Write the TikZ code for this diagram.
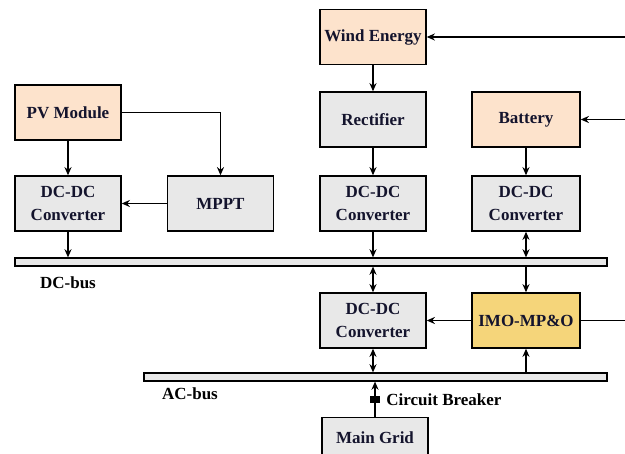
\documentclass[tikz,border=0pt]{standalone}
\usepackage{fontspec}
\setmainfont{Liberation Serif}
\usepackage{tikz}
\usetikzlibrary{arrows.meta, positioning}
\usepackage{xcolor}
\definecolor{darkink}{RGB}{20,20,45}
\definecolor{lightgray}{RGB}{232,232,232}
\definecolor{lightpeach}{RGB}{253,227,204}
\definecolor{gold}{RGB}{245,213,122}

\begin{document}
\begin{tikzpicture}[
  font=\fontsize{14.5}{20}\selectfont\bfseries,
  box/.style={rectangle, draw=black, line width=1.2pt, fill=lightgray,
              text=darkink, minimum width=3.18cm, minimum height=1.65cm,
              align=center, inner sep=2pt},
  sbox/.style={box, fill=lightpeach},
  cbox/.style={box, fill=gold, minimum width=3.24cm},
  bus/.style={rectangle, draw=black, line width=1pt, fill=lightgray,
              minimum height=0.24cm, inner sep=0pt},
  arrow/.style={-{Stealth[length=7pt, width=6pt]}, line width=1.1pt},
  darrow/.style={{Stealth[length=7pt, width=6pt]}-{Stealth[length=7pt, width=6pt]}, line width=1.1pt}
]
\useasboundingbox (0,0) rectangle (18.75,13.62);

% sources
\node[sbox] (wind) at (11.19, 12.51) {Wind Energy};
\node[box] (rect) at (11.19, 10.035) {Rectifier};
\node[sbox, minimum width=3.24cm] (batt) at (15.78, 10.035) {Battery};
\node[sbox] (pv) at (2.04, 10.245) {PV Module};

% converters
\node[box] (dcl) at (2.04, 7.515) {DC-DC\\Converter};
\node[box] (mppt) at (6.615, 7.515) {MPPT};
\node[box] (dcm) at (11.19, 7.515) {DC-DC\\Converter};
\node[box, minimum width=3.24cm] (dcr) at (15.78, 7.515) {DC-DC\\Converter};

% buses
\node[bus, minimum width=17.76cm] (dcbus) at (9.33, 5.76) {};
\node (dclab) at (2.04, 5.13) {DC-bus};
\node[box] (dcac) at (11.19, 4.005) {DC-DC\\Converter};
\node[cbox] (imo) at (15.78, 4.005) {IMO-MP\&O};
\node[bus, minimum width=13.89cm] (acbus) at (11.265, 2.31) {};
\node (aclab) at (5.7, 1.8) {AC-bus};

% grid
\node[box, anchor=north, minimum height=1.2cm] (grid) at (11.25, 1.11) {Main Grid};

% free ends at the right edge
\coordinate (wind in) at (18.75, 12.51);
\coordinate (batt in) at (18.75, 10.035);
\coordinate (imo out) at (18.75, 4.005);

\draw[arrow] (wind in) -- (wind);
\draw[arrow] (batt in) -- (batt);
\draw[line width=1.1pt] (imo) -- (imo out);

\draw[arrow] (wind) -- (rect);
\draw[arrow] (rect) -- (dcm);
\draw[arrow] (batt) -- (dcr);
\draw[arrow] (pv) -- (dcl);
\draw[arrow] (pv.east) -| (mppt.north);
\draw[arrow] (mppt) -- (dcl);

\draw[arrow] (dcl.south) -- (dcl.south |- dcbus.north);
\draw[arrow] (dcm.south) -- (dcm.south |- dcbus.north);
\draw[darrow] (dcr.south) -- (dcr.south |- dcbus.north);
\draw[darrow] (dcac.north |- dcbus.south) -- (dcac.north);
\draw[arrow] (imo.north |- dcbus.south) -- (imo.north);
\draw[arrow] (imo) -- (dcac);
\draw[darrow] (dcac.south) -- (dcac.south |- acbus.north);
\draw[arrow] (imo.south |- acbus.north) -- (imo.south);

\draw[arrow] (grid.north) -- (grid.north |- acbus.south)
  node[pos=0.5, rectangle, fill=black, minimum width=0.3cm, minimum height=0.2cm,
       inner sep=0pt] (brk) {};
\node[right=0.05cm of brk] (brklab) {Circuit Breaker};

\end{tikzpicture}
\end{document}
